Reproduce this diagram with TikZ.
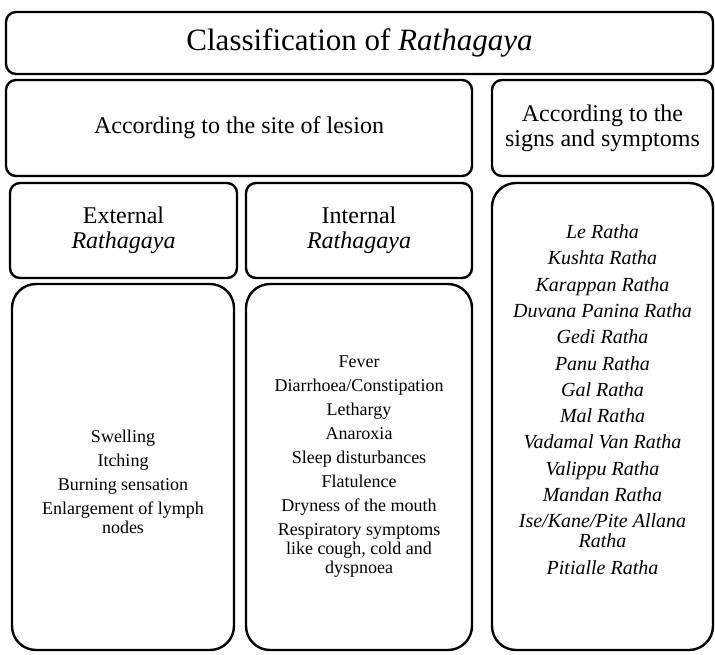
\documentclass[tikz,border=0pt]{standalone}
\usepackage{fontspec}
\setmainfont{Liberation Serif}
\usetikzlibrary{positioning}
\tikzset{panel/.style={draw=black,line width=2.4pt,rounded corners=10pt,inner sep=0pt,align=center}}
\tikzset{listbox/.style={panel,rounded corners=24pt}}
\tikzset{listtext/.style={inner sep=0pt,align=center,font=\fontsize{18}{19}\selectfont}}

\begin{document}
\begin{tikzpicture}[x=1pt,y=-1pt]
        \useasboundingbox (0,0) rectangle (715,654);
        \node[panel,minimum width=707pt,minimum height=62pt,font=\fontsize{31}{33}\selectfont] (title) at (359.5,43) {Classification of \textit{Rathagaya}};
        \node[panel,minimum width=466pt,minimum height=96pt,font=\fontsize{24}{25}\selectfont] (site) at (239,128) {According to the site of lesion};
        \node[panel,minimum width=221pt,minimum height=96pt,font=\fontsize{24}{25}\selectfont] (signs) at (602.5,128) {According to the\\signs and symptoms};
        \node[panel,minimum width=227pt,minimum height=95pt,font=\fontsize{24}{25}\selectfont] (ext) at (123.5,230.5) {External\\\textit{Rathagaya}};
        \node[panel,minimum width=226pt,minimum height=95pt,font=\fontsize{24}{25}\selectfont] (int) at (359,230.5) {Internal\\\textit{Rathagaya}};
        % symptom lists
        \node[listbox,minimum width=222pt,minimum height=366pt] (extlist) at (123,467) {};
        \node[listbox,minimum width=226pt,minimum height=366pt] (intlist) at (359,467) {};
        \node[listbox,minimum width=221pt,minimum height=467pt] (signlist) at (602.5,416.5) {};
        \node[listtext,yshift=-15pt] (exttext) at (extlist) {Swelling\\[5pt]Itching\\[5pt]Burning sensation\\[5pt]Enlargement of lymph\\nodes};
        \node[listtext] (inttext) at (intlist) {Fever\\[5pt]Diarrhoea/Constipation\\[5pt]Lethargy\\[5pt]Anaroxia\\[5pt]Sleep disturbances\\[5pt]Flatulence\\[5pt]Dryness of the mouth\\[5pt]Respiratory symptoms\\like cough, cold and\\dyspnoea};
        \node[listtext,yshift=17pt,font=\fontsize{20}{20}\selectfont\itshape] (signtext) at (signlist) {Le Ratha\\[6.3pt]Kushta Ratha\\[6.3pt]Karappan Ratha\\[6.3pt]Duvana Panina Ratha\\[6.3pt]Gedi Ratha\\[6.3pt]Panu Ratha\\[6.3pt]Gal Ratha\\[6.3pt]Mal Ratha\\[6.3pt]Vadamal Van Ratha\\[6.3pt]Valippu Ratha\\[6.3pt]Mandan Ratha\\[6.3pt]Ise/Kane/Pite Allana\\Ratha\\[6.3pt]Pitialle Ratha};
\end{tikzpicture}
\end{document}
